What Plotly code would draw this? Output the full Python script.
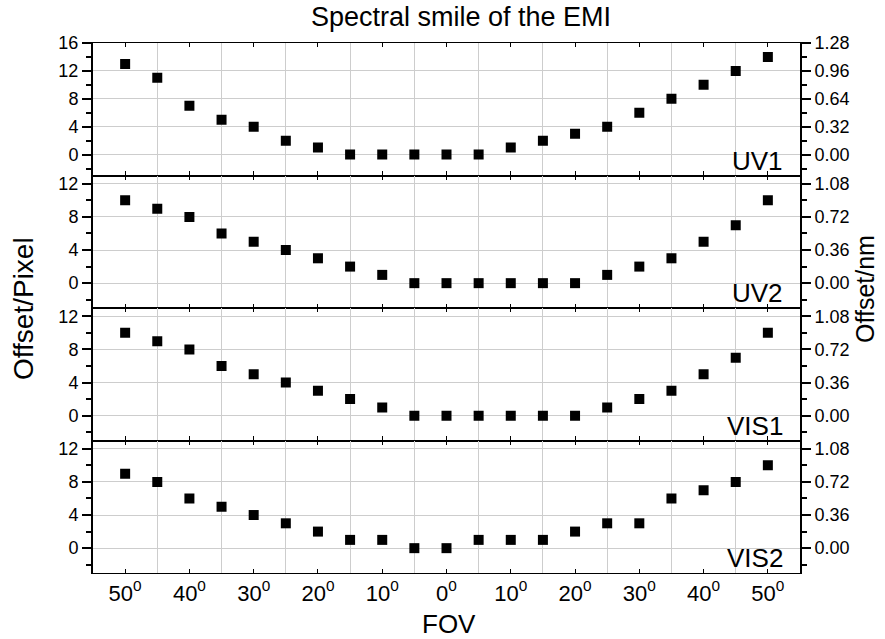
import plotly.graph_objects as go

# ---------------- data ----------------
FOV = [-50, -45, -40, -35, -30, -25, -20, -15, -10, -5, 0, 5, 10, 15, 20, 25, 30, 35, 40, 45, 50]
UV1 = [13, 11, 7, 5, 4, 2, 1, 0, 0, 0, 0, 0, 1, 2, 3, 4, 6, 8, 10, 12, 14]
UV2 = [10, 9, 8, 6, 5, 4, 3, 2, 1, 0, 0, 0, 0, 0, 0, 1, 2, 3, 5, 7, 10]
VIS1 = [10, 9, 8, 6, 5, 4, 3, 2, 1, 0, 0, 0, 0, 0, 0, 1, 2, 3, 5, 7, 10]
VIS2 = [9, 8, 6, 5, 4, 3, 2, 1, 1, 0, 0, 1, 1, 1, 2, 3, 3, 6, 7, 8, 10]
PANEL_NAMES = ["UV1", "UV2", "VIS1", "VIS2"]

X_TICK_VALS = [-50, -40, -30, -20, -10, 0, 10, 20, 30, 40, 50]
X_TICK_TEXT = ["50<sup>0</sup>", "40<sup>0</sup>", "30<sup>0</sup>", "20<sup>0</sup>", "10<sup>0</sup>",
               "0<sup>0</sup>", "10<sup>0</sup>", "20<sup>0</sup>", "30<sup>0</sup>", "40<sup>0</sup>",
               "50<sup>0</sup>"]
X_GRID_VALS = [-45, -35, -25, -15, -5, 5, 15, 25, 35, 45]

LEFT_RANGES = [[-3, 16], [-3, 13], [-3, 13], [-3, 13]]
LEFT_TICKS = [[0, 4, 8, 12, 16], [0, 4, 8, 12], [0, 4, 8, 12], [0, 4, 8, 12]]
RIGHT_RANGES = [[-0.24, 1.28], [-0.27, 1.17], [-0.27, 1.17], [-0.27, 1.17]]
RIGHT_TICKS = [[0, 0.32, 0.64, 0.96, 1.28], [0, 0.36, 0.72, 1.08], [0, 0.36, 0.72, 1.08], [0, 0.36, 0.72, 1.08]]
RIGHT_MINOR = [0.16, 0.18, 0.18, 0.18]

SERIES = [UV1, UV2, VIS1, VIS2]

# ---------------- layout geometry ----------------
W, H = 885, 639
L, R, T, B = 93, 85, 43, 66
PW, PH = W - L - R, H - T - B


def px(xp):
    return (xp - L) / PW


def py(yp):
    return (H - B - yp) / PH


FONT = "Liberation Sans, Arial, sans-serif"
GRID = "#cdcdcd"

fig = go.Figure()
layout = dict(
    width=W, height=H,
    margin=dict(l=L, r=R, t=T, b=B, autoexpand=False),
    paper_bgcolor="white", plot_bgcolor="white",
    showlegend=False,
    font=dict(family=FONT, color="black", size=18),
)

for i in range(4):
    p = i + 1
    yl = p
    yr = p + 4
    dom = [1 - (i + 1) * 0.25, 1 - i * 0.25]
    xname = "x" if p == 1 else f"x{p}"
    fig.add_trace(go.Scatter(
        x=FOV, y=SERIES[i], mode="markers",
        marker=dict(symbol="square", size=10, color="black"),
        xaxis=xname, yaxis=f"y{yl}" if yl > 1 else "y",
    ))
    fig.add_trace(go.Scatter(
        x=[FOV[0]], y=[None], mode="markers", hoverinfo="skip",
        xaxis=xname, yaxis=f"y{yr}",
    ))
    xa = dict(
        domain=[0, 1], range=[-55, 55], anchor=f"y{yl}" if yl > 1 else "y",
        tickmode="array", tickvals=X_TICK_VALS, ticktext=X_TICK_TEXT,
        showticklabels=(p == 4), ticks="inside", ticklen=4, tickwidth=1, tickcolor="black",
        showgrid=False, zeroline=False,
        showline=True, linecolor="black", linewidth=1.2, mirror="ticks",
        minor=dict(tickmode="array", tickvals=X_GRID_VALS, showgrid=True, gridcolor=GRID, gridwidth=1, ticks=""),
        tickfont=dict(size=22),
    )
    if p > 1:
        xa["matches"] = "x"
    layout["xaxis" if p == 1 else f"xaxis{p}"] = xa
    layout["yaxis" if p == 1 else f"yaxis{p}"] = dict(
        domain=dom, range=LEFT_RANGES[i], anchor=xname,
        tickmode="array", tickvals=LEFT_TICKS[i],
        ticks="outside", ticklen=9, tickwidth=1.5, tickcolor="black",
        showgrid=True, gridcolor=GRID, gridwidth=1, zeroline=False,
        showline=True, linecolor="black", linewidth=2,
        minor=dict(dtick=2, tick0=0, ticks="outside", ticklen=5, tickwidth=1.5, tickcolor="black", showgrid=False),
        tickfont=dict(size=18),
    )
    layout[f"yaxis{yr}"] = dict(
        domain=dom, range=RIGHT_RANGES[i], anchor=xname, overlaying="y" if p == 1 else f"y{p}", side="right",
        tickmode="array", tickvals=RIGHT_TICKS[i], tickformat=".2f",
        ticks="outside", ticklen=9, tickwidth=1.5, tickcolor="black",
        showgrid=False, zeroline=False,
        showline=True, linecolor="black", linewidth=2,
        minor=dict(dtick=RIGHT_MINOR[i], tick0=0, ticks="outside", ticklen=5, tickwidth=1.5, tickcolor="black", showgrid=False),
        tickfont=dict(size=18),
    )

annotations = []
for i, name in enumerate(PANEL_NAMES):
    p = i + 1
    annotations.append(dict(
        text=name, xref="paper", yref=("y domain" if p == 1 else f"y{p} domain"),
        x=px(784), y=0, xanchor="right", yanchor="bottom", showarrow=False,
        font=dict(size=26, family=FONT), borderpad=0, yshift=-1,
    ))

annotations += [
    dict(text="Spectral smile of the EMI", xref="paper", yref="paper", x=px(461), y=py(17),
         xanchor="center", yanchor="middle", showarrow=False, font=dict(size=27, family=FONT)),
    dict(text="FOV", xref="paper", yref="paper", x=px(449), y=py(624),
         xanchor="center", yanchor="middle", showarrow=False, font=dict(size=26, family=FONT)),
    dict(text="Offset/Pixel", xref="paper", yref="paper", x=px(23), y=py(309), textangle=-90,
         xanchor="center", yanchor="middle", showarrow=False, font=dict(size=28, family=FONT)),
    dict(text="Offset/nm", xref="paper", yref="paper", x=px(865), y=py(289), textangle=-90,
         xanchor="center", yanchor="middle", showarrow=False, font=dict(size=25, family=FONT)),
]
layout["annotations"] = annotations

fig.update_layout(**layout)
# remove the browser's default 8px body margin so the figure fills the window exactly
fig.write_html("out.html", config={"displayModeBar": False},
               post_script="document.body.style.margin='0px';")
